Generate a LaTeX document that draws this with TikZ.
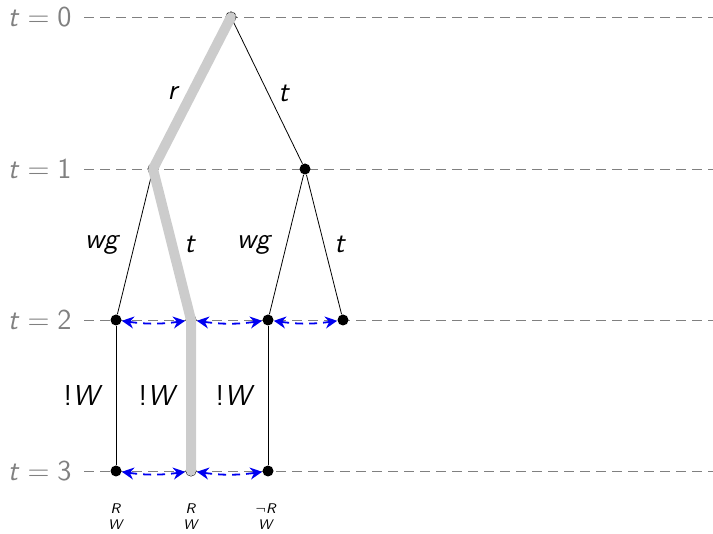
\documentclass[tikz,border=0pt]{standalone}
\usepackage{amsmath,amssymb}
\usepackage{tikz}
\usetikzlibrary{arrows.meta}
\definecolor{lvlgrey}{HTML}{808080}
\definecolor{histgrey}{HTML}{CCCCCC}
\definecolor{linkblue}{HTML}{0000F0}
\newcommand{\sv}[1]{\textsf{\textit{#1}}}

\begin{document}
\begin{tikzpicture}[x=0.5pt,y=-0.5pt,
  lvl/.style={anchor=east,text=lvlgrey,inner sep=1pt,font=\Large\sffamily},
  guide/.style={draw=lvlgrey,dash pattern=on 5pt off 3pt,thin},
  world/.style={circle,fill=black,inner sep=0pt,minimum size=5.5pt},
  edge/.style={draw=black,thin},
  lab/.style={font=\Large\sffamily,inner sep=2pt},
  hist/.style={draw=histgrey,line width=5pt,line cap=round,line join=round},
  link/.style={{Stealth[length=6pt,width=6pt,inset=2pt]}-{Stealth[length=6pt,width=6pt,inset=2pt]},draw=linkblue,dash pattern=on 4pt off 3pt,line width=0.9pt,bend right=8},
  val/.style={font=\scriptsize\sffamily,align=center,inner sep=0pt}
]
\useasboundingbox (0,0) rectangle (713,534);
% time levels
\foreach \i/\y in {0/17,1/169,2/320,3/471}{
  \node[lvl] (l\i) at (74,\y) {$\sv{t}=\textsf{\i}$};
  \coordinate (g\i) at (713,\y);
  \draw[guide] ([xshift=5pt]l\i.east) -- (g\i);
}
% worlds
\node[world] (w0) at (231,17) {};
\node[world] (w1a) at (153,169) {};
\node[world] (w1b) at (305,169) {};
\node[world] (w2a) at (116,320) {};
\node[world] (w2b) at (191,320) {};
\node[world] (w2c) at (268,320) {};
\node[world] (w2d) at (343,320) {};
\node[world] (w3a) at (116,471) {};
\node[world] (w3b) at (191,471) {};
\node[world] (w3c) at (268,471) {};
% branches
\draw[edge] (w0.center) -- node[lab,left=4pt]{\sv{r}} (w1a.center);
\draw[edge] (w0) -- node[lab,right=3pt]{\sv{t}} (w1b);
\draw[edge] (w1a) -- node[lab,left=5pt]{\sv{wg}} (w2a);
\draw[edge] (w1a) -- node[lab,right=4pt]{\sv{t}} (w2b);
\draw[edge] (w1b) -- node[lab,left=5pt]{\sv{wg}} (w2c);
\draw[edge] (w1b) -- node[lab,right=3pt]{\sv{t}} (w2d);
\draw[edge] (w2a) -- node[lab,left=4.5pt]{!\sv{W}} (w3a);
\draw[edge] (w2b) -- node[lab,left=4.5pt]{!\sv{W}} (w3b);
\draw[edge] (w2c) -- node[lab,left=4.5pt]{!\sv{W}} (w3c);
% actual history
\draw[hist] (w0.center) -- (w1a.center) -- (w2b.center) -- (w3b.center);
% indistinguishability
\draw[link] (w2a) to (w2b);
\draw[link] (w2b) to (w2c);
\draw[link] (w2c) to (w2d);
\draw[link] (w3a) to (w3b);
\draw[link] (w3b) to (w3c);
% valuations
\node[val] (v3a) at (116,517) {\sv{R}\\\sv{W}};
\node[val] (v3b) at (191,517) {\sv{R}\\\sv{W}};
\node[val] (v3c) at (266,517) {$\neg$\sv{R}\\\sv{W}};
\end{tikzpicture}
\end{document}
